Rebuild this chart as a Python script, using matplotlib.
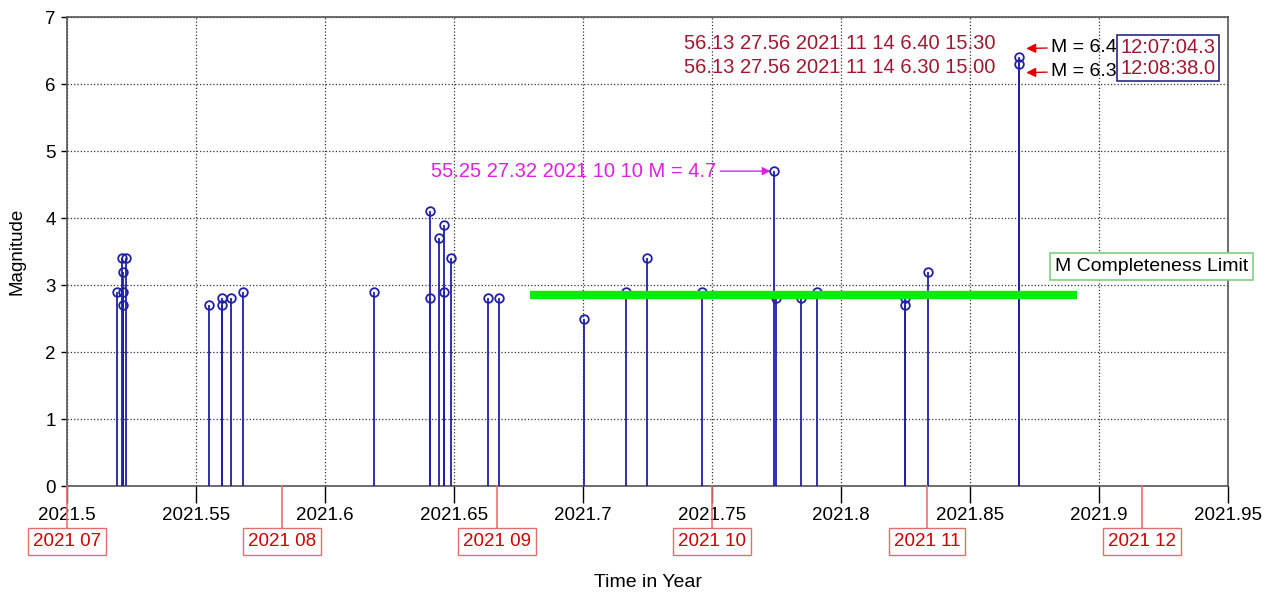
#LIBRARIES
import numpy as np
import matplotlib
matplotlib.use('Agg')
import matplotlib.pyplot as plt
import matplotlib.transforms as mtransforms

plt.rcParams['font.family'] = ['Liberation Sans', 'DejaVu Sans']

#EVENT CATALOGUE (decimal year, magnitude)
tempo = [2021.5194, 2021.5213, 2021.5217, 2021.5217, 2021.5217, 2021.5229,
         2021.5550, 2021.5601, 2021.5601, 2021.5636, 2021.5682,
         2021.6191, 2021.6407, 2021.6407, 2021.6443, 2021.6460, 2021.6460,
         2021.6487, 2021.6632, 2021.6676,
         2021.7004, 2021.7167, 2021.7247, 2021.7460, 2021.7740, 2021.7748,
         2021.7844, 2021.7906, 2021.8248, 2021.8248, 2021.8338,
         2021.8690, 2021.8690]
magn = [2.9, 3.4, 3.2, 2.9, 2.7, 3.4,
        2.7, 2.8, 2.7, 2.8, 2.9,
        2.9, 4.1, 2.8, 3.7, 3.9, 2.9,
        3.4, 2.8, 2.8,
        2.5, 2.9, 3.4, 2.9, 4.7, 2.8,
        2.8, 2.9, 2.8, 2.7, 3.2,
        6.4, 6.3]

#MONTH MARKERS
meses = ['2021 07', '2021 08', '2021 09', '2021 10', '2021 11', '2021 12']
mes_pos = [2021 + m / 12 for m in range(6, 12)]

#COMPLETENESS LIMIT
mc = 2.85
mc_ini, mc_fim = 2021.6795, 2021.8915

#LABELLED EVENTS
evento_m47 = (2021.7740, 4.7)
texto_m47 = '55.25 27.32 2021 10 10 M = 4.7'
linhas_grandes = ['56.13 27.56 2021 11 14 6.40 15.30',
                  '56.13 27.56 2021 11 14 6.30 15.00']
mag_grandes = [6.4, 6.3]
horas = ['12:07:04.3', '12:08:38.0']

xticks = [2021.5, 2021.55, 2021.6, 2021.65, 2021.7, 2021.75, 2021.8,
          2021.85, 2021.9, 2021.95]

#FIGURE
fig = plt.figure(figsize=(12.69, 5.97), dpi=100)
ax = fig.add_axes([0.0528, 0.1859, 0.9149, 0.7856])

azul = '#2020a8'
ax.vlines(tempo, 0, magn, color=azul, lw=1.3, zorder=3)
ax.plot(tempo, magn, 'o', mfc='none', mec=azul, mew=1.3, ms=6.2, zorder=4)

ax.plot([mc_ini, mc_fim], [mc, mc], color='#00ee00', lw=6, solid_capstyle='butt', zorder=5)
ax.text(2021.9205, 3.28, 'M Completeness Limit', fontsize=14, ha='center', va='center',
        clip_on=False, zorder=6,
        bbox=dict(boxstyle='square,pad=0.25', fc='white', ec='#80d080', lw=1.2))

ax.set_xlim(2021.5, 2021.95)
ax.set_ylim(0, 7)
ax.set_xticks(xticks)
ax.set_xticklabels([f'{v:g}' for v in xticks])
ax.set_yticks(range(8))
ax.tick_params(axis='x', direction='out', length=12, width=1, pad=3, labelsize=13.5)
ax.tick_params(axis='y', direction='out', length=4, width=1, pad=4, labelsize=13.5)
ax.grid(True, linestyle=':', color='#333333', lw=0.9)
ax.set_axisbelow(True)
for s in ax.spines.values():
    s.set_color('#555555')
    s.set_linewidth(1.2)

ax.set_xlabel('Time in Year', fontsize=14, labelpad=36)
ax.set_ylabel('Magnitude', fontsize=13.5, labelpad=14)

#MONTH BOXES UNDER THE AXIS
trans = mtransforms.blended_transform_factory(ax.transData, ax.transAxes)
for nome, xm in zip(meses, mes_pos):
    ax.annotate(nome, xy=(xm, 0), xycoords=trans, xytext=(0, -40),
                textcoords='offset points', ha='center', va='center',
                fontsize=13.5, color='#cc0000', annotation_clip=False,
                bbox=dict(boxstyle='square,pad=0.25', fc='white', ec='#e07070', lw=1),
                arrowprops=dict(arrowstyle='-', color='#f07070', lw=1.2,
                                shrinkA=0, shrinkB=0))

#M 4.7 LABEL
ax.annotate(texto_m47, xy=(evento_m47[0] - 0.0013, evento_m47[1]),
            xytext=(2021.7516, evento_m47[1]), ha='right', va='center',
            fontsize=14.5, color='#e020e0',
            arrowprops=dict(arrowstyle='-|>', color='#e020e0', lw=1,
                            mutation_scale=12, shrinkA=1, shrinkB=0))

#LARGEST EVENTS
cor_txt = '#a01830'
ax.text(2021.860, 6.60, linhas_grandes[0], ha='right', va='center', fontsize=14.5, color=cor_txt)
ax.text(2021.860, 6.24, linhas_grandes[1], ha='right', va='center', fontsize=14.5, color=cor_txt)
for m, yt in zip(mag_grandes, [6.55, 6.19]):
    ax.annotate(f'M = {m}', xy=(2021.8718, yt - 0.02), xytext=(2021.8815, yt),
                ha='left', va='center', fontsize=14, color='black', annotation_clip=False,
                arrowprops=dict(arrowstyle='-|>', color='#dd0000', lw=1,
                                mutation_scale=14, shrinkA=1, shrinkB=0))
ax.text(2021.9083, 6.39, '\n'.join(horas), ha='left', va='center', fontsize=14.5,
        color=cor_txt, linespacing=1.1, clip_on=False,
        bbox=dict(boxstyle='square,pad=0.15', fc='white', ec='#2a2a80', lw=1.2))

plt.savefig('out.png', dpi=100)
